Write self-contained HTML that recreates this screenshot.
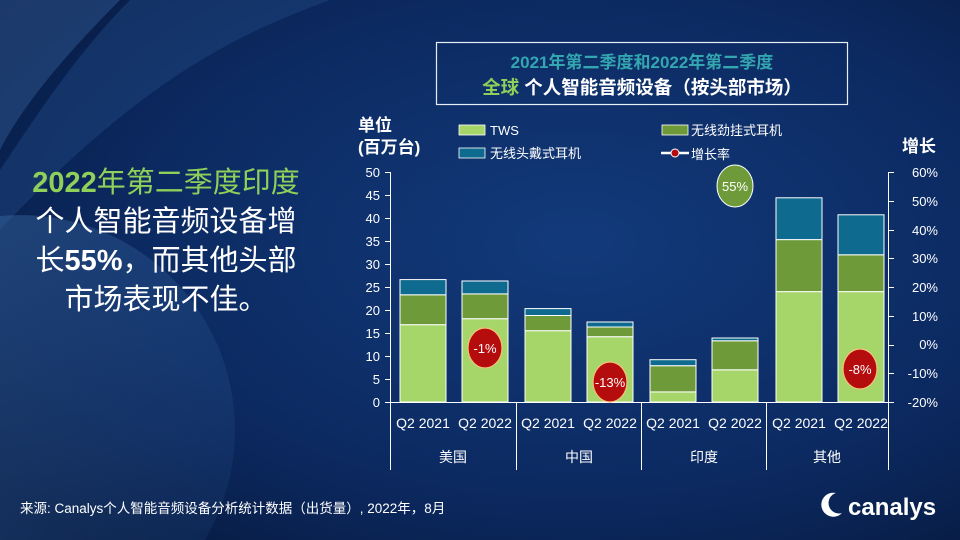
<!DOCTYPE html>
<html><head><meta charset="utf-8"><style>
html,body{margin:0;padding:0;width:960px;height:540px;overflow:hidden;background:#0b2454}
svg{display:block;overflow:hidden}
text{font-family:"Liberation Sans","Noto Sans CJK SC",sans-serif}
</style></head><body>
<svg width="960" height="540" viewBox="0 0 960 540">
<defs>
<radialGradient id="bg" cx="0.6" cy="0.45" r="0.75">
<stop offset="0" stop-color="#123a7a"/><stop offset="0.6" stop-color="#0c2a62"/><stop offset="1" stop-color="#071a40"/>
</radialGradient>
<linearGradient id="cg" x1="0" y1="0" x2="1" y2="1">
<stop offset="0" stop-color="#3a6aa5" stop-opacity="0.45"/><stop offset="1" stop-color="#2a5590" stop-opacity="0.15"/>
</linearGradient>
</defs>
<rect width="960" height="540" fill="url(#bg)"/>
<path d="M0,0 L120,0 C60,60 20,110 0,150 Z" fill="#2a4f86" opacity="0.6"/>
<path d="M130,0 L330,0 C250,30 150,70 0,230 L0,170 C40,110 80,50 130,0Z" fill="#1d4680" opacity="0.5"/>
<path d="M0,216 A215,215 0 0,1 204.7,540 L0,540 Z" fill="url(#cg)"/>
<rect x="436.5" y="42.5" width="411" height="62" fill="none" stroke="#e8eef5" stroke-width="1.2"/>
<text x="642" y="68" text-anchor="middle" font-size="17" font-weight="bold" fill="#33a6b0">2021年第二季度和2022年第二季度</text>
<text x="642" y="94" text-anchor="middle" font-size="18.5" font-weight="bold" fill="#fff"><tspan fill="#8fd05a">全球</tspan> 个人智能音频设备（按头部市场）</text>
<g font-size="29" text-anchor="middle" fill="#fff">
<text x="166" y="192" fill="#8fd05a"><tspan font-weight="bold">2022</tspan>年第二季度印度</text>
<text x="166" y="231">个人智能音频设备增</text>
<text x="166" y="270">长<tspan font-weight="bold">55%</tspan>，而其他头部</text>
<text x="166" y="309">市场表现不佳。</text>
</g>
<text x="358" y="131" font-size="17" font-weight="bold" fill="#fff">单位</text>
<text x="358" y="153" font-size="17" font-weight="bold" fill="#fff">(百万台)</text>
<text x="902" y="152" font-size="17" font-weight="bold" fill="#fff">增长</text>
<rect x="459" y="125" width="26" height="10" fill="#a6d66a" stroke="#fff" stroke-width="0.8"/>
<text x="490" y="135" font-size="13" fill="#fff">TWS</text>
<rect x="662" y="125" width="26" height="10" fill="#6e9a3a" stroke="#fff" stroke-width="0.8"/>
<text x="691" y="135" font-size="13" fill="#fff">无线劲挂式耳机</text>
<rect x="459" y="148" width="26" height="10" fill="#0e6a8e" stroke="#fff" stroke-width="0.8"/>
<text x="490" y="158" font-size="13" fill="#fff">无线头戴式耳机</text>
<line x1="661" y1="153" x2="689" y2="153" stroke="#fff" stroke-width="2.5"/>
<circle cx="675" cy="153" r="4" fill="#b50d0d" stroke="#fff" stroke-width="1"/>
<text x="691" y="159" font-size="13" fill="#fff">增长率</text>
<g stroke="#fff" stroke-width="1" fill="none">
<line x1="390.5" y1="172" x2="390.5" y2="470"/>
<line x1="888.5" y1="172" x2="888.5" y2="470"/>
<line x1="385" y1="402.5" x2="894" y2="402.5"/>
<line x1="516.5" y1="402" x2="516.5" y2="470"/>
<line x1="641.5" y1="402" x2="641.5" y2="470"/>
<line x1="766.5" y1="402" x2="766.5" y2="470"/>
<path d="M385 172.5h5M385 195.5h5M385 218.5h5M385 241.5h5M385 264.5h5M385 287.5h5M385 310.5h5M385 333.5h5M385 356.5h5M385 379.5h5"/>
<path d="M888 172.5h6M888 201.5h6M888 230.5h6M888 258.5h6M888 287.5h6M888 316.5h6M888 345.5h6M888 373.5h6"/>
</g>
<g font-size="13" fill="#fff" text-anchor="end">
<text x="380" y="177">50</text><text x="380" y="200">45</text><text x="380" y="223">40</text><text x="380" y="246">35</text><text x="380" y="269">30</text><text x="380" y="292">25</text><text x="380" y="315">20</text><text x="380" y="338">15</text><text x="380" y="361">10</text><text x="380" y="384">5</text><text x="380" y="407">0</text>
</g>
<g font-size="13" fill="#fff" text-anchor="end">
<text x="938" y="177">60%</text><text x="938" y="206">50%</text><text x="938" y="235">40%</text><text x="938" y="263">30%</text><text x="938" y="292">20%</text><text x="938" y="321">10%</text><text x="938" y="349">0%</text><text x="938" y="378">-10%</text><text x="938" y="407">-20%</text>
</g>
<g stroke="#fff" stroke-width="1">
<rect x="400" y="324.7" width="46" height="77.3" fill="#a6d66a"/>
<rect x="400" y="294.8" width="46" height="29.9" fill="#6e9a3a"/>
<rect x="400" y="279.6" width="46" height="15.2" fill="#0e6a8e"/>
<rect x="462" y="318.7" width="46" height="83.3" fill="#a6d66a"/>
<rect x="462" y="293.9" width="46" height="24.8" fill="#6e9a3a"/>
<rect x="462" y="281" width="46" height="12.9" fill="#0e6a8e"/>
<rect x="525" y="330.7" width="46" height="71.3" fill="#a6d66a"/>
<rect x="525" y="315.5" width="46" height="15.2" fill="#6e9a3a"/>
<rect x="525" y="308.6" width="46" height="6.9" fill="#0e6a8e"/>
<rect x="587" y="336.7" width="46" height="65.3" fill="#a6d66a"/>
<rect x="587" y="327" width="46" height="9.7" fill="#6e9a3a"/>
<rect x="587" y="322" width="46" height="5" fill="#0e6a8e"/>
<rect x="650" y="391.9" width="46" height="10.1" fill="#a6d66a"/>
<rect x="650" y="365.7" width="46" height="26.2" fill="#6e9a3a"/>
<rect x="650" y="359.7" width="46" height="6" fill="#0e6a8e"/>
<rect x="712" y="369.8" width="46" height="32.2" fill="#a6d66a"/>
<rect x="712" y="340.8" width="46" height="29" fill="#6e9a3a"/>
<rect x="712" y="338" width="46" height="2.8" fill="#0e6a8e"/>
<rect x="776" y="291.6" width="46" height="110.4" fill="#a6d66a"/>
<rect x="776" y="239.6" width="46" height="52" fill="#6e9a3a"/>
<rect x="776" y="197.8" width="46" height="41.8" fill="#0e6a8e"/>
<rect x="838" y="291.6" width="46" height="110.4" fill="#a6d66a"/>
<rect x="838" y="254.8" width="46" height="36.8" fill="#6e9a3a"/>
<rect x="838" y="214.8" width="46" height="40" fill="#0e6a8e"/>
</g>
<g font-size="13" fill="#fff" text-anchor="middle">
<ellipse cx="485" cy="348" rx="17" ry="20" fill="#b50d0d" stroke="#f3c27a" stroke-width="1.2"/>
<text x="485" y="353">-1%</text>
<ellipse cx="610" cy="382" rx="17" ry="20" fill="#b50d0d" stroke="#f3c27a" stroke-width="1.2"/>
<text x="610" y="387">-13%</text>
<ellipse cx="735" cy="186" rx="18" ry="21" fill="#6e9a3a" stroke="#fff" stroke-width="1"/>
<text x="735" y="191">55%</text>
<ellipse cx="860" cy="369" rx="17" ry="20" fill="#b50d0d" stroke="#f3c27a" stroke-width="1.2"/>
<text x="860" y="374">-8%</text>
</g>
<g font-size="14" fill="#fff" text-anchor="middle">
<text x="423" y="428">Q2 2021</text><text x="485" y="428">Q2 2022</text>
<text x="548" y="428">Q2 2021</text><text x="610" y="428">Q2 2022</text>
<text x="673" y="428">Q2 2021</text><text x="735" y="428">Q2 2022</text>
<text x="799" y="428">Q2 2021</text><text x="861" y="428">Q2 2022</text>
<text x="453" y="462">美国</text><text x="579" y="462">中国</text><text x="704" y="462">印度</text><text x="827" y="462">其他</text>
</g>
<text x="20" y="513" font-size="13.5" fill="#fff">来源: Canalys个人智能音频设备分析统计数据（出货量）, 2022年，8月</text>
<g fill="#fff">
<path d="M836,493 a12,12 0 1 0 6,20 a8,8 0 1 1 -6,-20 z"/>
<text x="848" y="515" font-size="24" font-weight="bold">canalys</text>
</g>
</svg>
</body></html>
